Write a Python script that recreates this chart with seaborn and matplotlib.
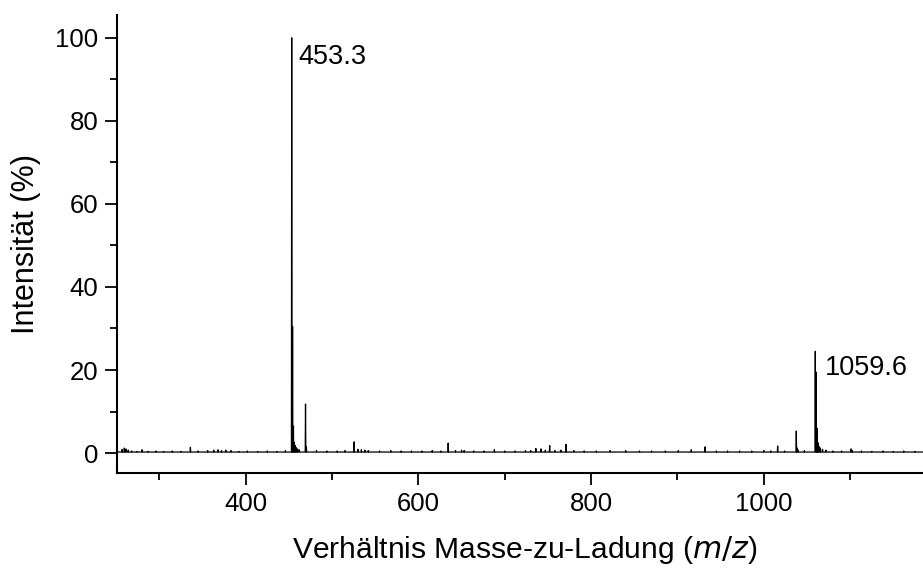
import numpy as np
import pandas as pd
import matplotlib
matplotlib.use("Agg")
import matplotlib.pyplot as plt
import seaborn as sns
from matplotlib.ticker import MultipleLocator

# ---- data ----
# main peaks incl. isotope / tailing components (m/z, relative intensity %)
peak_mz = [453.3, 454.3, 455.3, 456.3, 457.3, 458.5, 460.0, 462.0,
           469.3, 470.3,
           525.6, 634.5, 736.0, 742.0, 752.0, 771.0, 932.0, 1016.0,
           1037.6, 1038.6, 1039.8,
           1059.6, 1060.6, 1061.6, 1062.6, 1063.8, 1065.5, 1068.0, 1072.0,
           1101.0, 1102.5]
peak_int = [100.0, 30.5, 6.5, 2.6, 1.8, 1.3, 1.0, 0.8,
            11.8, 1.5,
            2.7, 2.4, 1.1, 1.0, 1.8, 2.1, 1.5, 1.7,
            5.3, 1.2, 0.7,
            24.5, 19.5, 6.0, 2.5, 1.6, 1.2, 0.9, 0.7,
            1.0, 0.6]
# small baseline features
noise_mz = [257, 259.5, 261.5, 264, 268, 274, 280, 287, 296, 305, 315, 325,
            336, 345, 356, 363, 368, 372, 377, 383, 392, 402, 414, 425, 436,
            446, 482, 494, 506, 515, 530, 534, 538, 542, 555, 568, 580, 592,
            604, 616, 626, 643, 650, 653, 664, 676, 688, 700, 712, 724, 730,
            747, 758, 765, 780, 792, 806, 822, 840, 856, 870, 886, 901, 916,
            945, 958, 972, 986, 1000, 1008, 1024, 1047, 1080, 1090, 1113,
            1125, 1138, 1150, 1162, 1175]
noise_int = [0.9, 1.2, 1.0, 0.7, 0.5, 0.4, 0.8, 0.4, 0.5, 0.4, 0.5, 0.4,
             1.4, 0.5, 0.6, 0.7, 0.8, 0.6, 0.7, 0.6, 0.4, 0.5, 0.4, 0.5, 0.4,
             0.6, 0.6, 0.5, 0.5, 0.6, 0.9, 0.8, 0.7, 0.6, 0.5, 0.6, 0.5, 0.5,
             0.5, 0.6, 0.5, 0.6, 0.7, 0.6, 0.5, 0.5, 0.8, 0.5, 0.5, 0.6, 0.6,
             0.7, 0.6, 0.7, 0.6, 0.5, 0.5, 0.6, 0.6, 0.5, 0.5, 0.5, 0.6, 0.8,
             0.5, 0.5, 0.5, 0.5, 0.6, 0.5, 0.5, 0.6, 0.5, 0.5, 0.5,
             0.4, 0.5, 0.4, 0.5, 0.4]
baseline = 0.25
label_mz = [453.3, 1059.6]
label_text = ["453.3", "1059.6"]

# ---- build a stick/profile trace from the values ----
mz_all = np.array(peak_mz + noise_mz, dtype=float)
int_all = np.array(peak_int + noise_int, dtype=float)
order = np.argsort(mz_all)
xs, ys = [250.0], [baseline]
for m, h in zip(mz_all[order], int_all[order]):
    xs += [m - 0.35, m, m + 0.35]
    ys += [baseline, h, baseline]
xs.append(1195.0)
ys.append(baseline)
df = pd.DataFrame({"mz": xs, "intensity": ys})

# ---- figure ----
sns.set_theme(style="ticks")
plt.rcParams["font.family"] = ["Liberation Sans", "DejaVu Sans"]
plt.rcParams.update({"text.color": "black", "axes.labelcolor": "black",
                     "xtick.color": "black", "ytick.color": "black",
                     "axes.edgecolor": "black"})

fig = plt.figure(figsize=(9.23, 5.68), dpi=100)
ax = fig.add_axes([117 / 923, 1 - 473 / 568, 1 - 117 / 923 + 0.01, (473 - 15) / 568])

sns.lineplot(data=df, x="mz", y="intensity", color="black", linewidth=0.9,
             estimator=None, sort=False, ax=ax)

ax.set_xlim(251, 1195)
ax.set_ylim(-4.8, 105.5)
ax.xaxis.set_major_locator(MultipleLocator(200))
ax.xaxis.set_minor_locator(MultipleLocator(100))
ax.yaxis.set_major_locator(MultipleLocator(20))
ax.yaxis.set_minor_locator(MultipleLocator(10))

for s in ["top", "right"]:
    ax.spines[s].set_visible(False)
for s in ["left", "bottom"]:
    ax.spines[s].set_linewidth(1.5)
    ax.spines[s].set_color("black")

ax.tick_params(which="major", direction="out", length=8.5, width=1.3,
               labelsize=18.5, color="black", labelcolor="black", pad=5)
ax.tick_params(which="minor", direction="out", length=5, width=1.3, color="black")

ax.set_xlabel("Verhältnis Masse-zu-Ladung ($\\it{m/z}$)", fontsize=21.6, labelpad=13)
ax.set_ylabel("Intensität (%)", fontsize=22, labelpad=10)

# peak labels
ax.text(label_mz[0] + 7.5, 95.5, label_text[0], fontsize=19.5, ha="left", va="center")
ax.text(label_mz[1] + 11, 20.5, label_text[1], fontsize=19.5, ha="left", va="center")

fig.savefig("out.png", dpi=100)
